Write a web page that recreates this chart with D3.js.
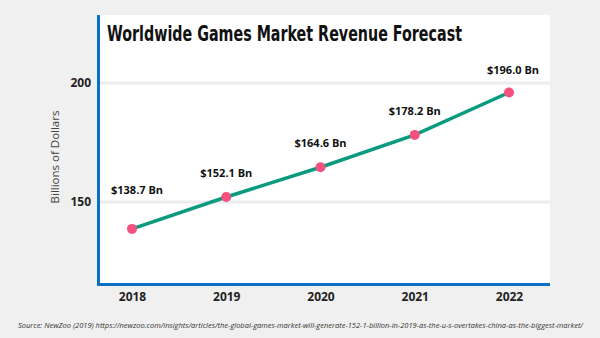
<!DOCTYPE html>
<html><head><meta charset="utf-8">
<script src="https://cdn.jsdelivr.net/npm/d3@7"></script>
<style>html,body{margin:0;padding:0;background:#f0f0f0;}svg{display:block;}</style>
</head><body><svg id="c" width="600" height="338"></svg>
<script>
const years = ["2018","2019","2020","2021","2022"];
const revenue = [138.7, 152.1, 164.6, 178.2, 196.0];
const labels = ["$138.7 Bn","$152.1 Bn","$164.6 Bn","$178.2 Bn","$196.0 Bn"];
const yTicks = [150, 200];
const title = "Worldwide Games Market Revenue Forecast";
const yTitle = "Billions of Dollars";
const source = "Source: NewZoo (2019)  https://newzoo.com/insights/articles/the-global-games-market-will-generate-152-1-billion-in-2019-as-the-u-s-overtakes-china-as-the-biggest-market/";

const svg = d3.select("#c");
svg.append("rect").attr("width",600).attr("height",338).attr("fill","#f0f0f0");
const pL=97, pR=550, pT=15, pB=286;
svg.append("rect").attr("x",pL).attr("y",pT).attr("width",pR-pL).attr("height",pB-pT).attr("fill","#fff");

const x = d3.scalePoint().domain(years).range([132,509]);
const y = d3.scaleLinear().domain([150,200]).range([202,83]);

// gridlines
svg.append("g").selectAll("line").data(yTicks).join("line")
  .attr("x1",pL).attr("x2",pR).attr("y1",d=>y(d)).attr("y2",d=>y(d))
  .attr("stroke","#ececec").attr("stroke-width",3);

// blue borders
svg.append("line").attr("x1",pL+1.5).attr("x2",pL+1.5).attr("y1",pT).attr("y2",pB).attr("stroke","#0b6fc4").attr("stroke-width",3);
svg.append("line").attr("x1",pL).attr("x2",pR).attr("y1",284.5).attr("y2",284.5).attr("stroke","#0b6fc4").attr("stroke-width",3);

// y axis
const ya = svg.append("g").attr("transform",`translate(${pL},0)`)
  .call(d3.axisLeft(y).tickValues(yTicks).tickSize(0).tickPadding(6));
ya.select(".domain").remove();
ya.selectAll("text").attr("font-family","'Open Sans'").attr("font-weight","bold").attr("font-size",12).attr("fill","#222");

// x axis
const xa = svg.append("g").attr("transform",`translate(0,${pB})`)
  .call(d3.axisBottom(x).tickSize(0).tickPadding(6));
xa.select(".domain").remove();
xa.selectAll("text").attr("font-family","'Open Sans'").attr("font-weight","bold").attr("font-size",12).attr("fill","#222");

// y title
svg.append("text").attr("transform","translate(59,157) rotate(-90)").attr("text-anchor","middle")
  .attr("font-family","'Open Sans'").attr("font-size",11.5).attr("fill","#444").text(yTitle);

// title
svg.append("text").attr("x",107).attr("y",41).attr("font-family","'DejaVu Sans Condensed','Liberation Sans Narrow',sans-serif")
  .attr("font-weight","bold").attr("font-size",22).attr("fill","#111")
  .attr("textLength",355).attr("lengthAdjust","spacingAndGlyphs").text(title);

const data = years.map((d,i)=>({year:d,v:revenue[i],label:labels[i]}));

// line
svg.append("path").datum(data)
  .attr("d",d3.line().x(d=>x(d.year)).y(d=>y(d.v)))
  .attr("fill","none").attr("stroke","#0a9b7f").attr("stroke-width",3.5);

svg.append("g").selectAll("circle").data(data).join("circle")
  .attr("cx",d=>x(d.year)).attr("cy",d=>y(d.v)).attr("r",5).attr("fill","#f4517f");

// value labels
const off = [35,20,20,20,19];
svg.append("g").selectAll("text").data(data).join("text")
  .attr("x",(d,i)=>x(d.year)+(i===0?5:(i===4?4:0))).attr("y",(d,i)=>y(d.v)-off[i])
  .attr("text-anchor","middle").attr("font-family","'Open Sans'").attr("font-weight","bold")
  .attr("font-size",11).attr("fill","#111").text(d=>d.label);

// source
svg.append("text").attr("x",18).attr("y",328).attr("font-family","'Open Sans'").attr("font-style","italic")
  .attr("font-size",7.5).attr("fill","#333").attr("textLength",565).attr("lengthAdjust","spacingAndGlyphs").text(source);
</script></body></html>
